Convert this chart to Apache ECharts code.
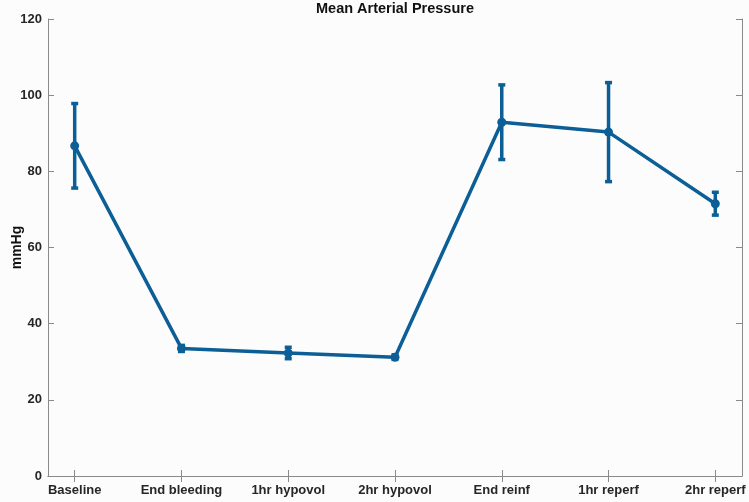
<!DOCTYPE html>
<html><head><meta charset="utf-8">
<script src="https://cdn.jsdelivr.net/npm/echarts@6/dist/echarts.min.js"></script>
<style>html,body{margin:0;padding:0;background:#fcfcfc}#c{width:749px;height:502px}</style>
</head><body><div id="c"></div>
<script>
const categories = ['Baseline','End bleeding','1hr hypovol','2hr hypovol','End reinf','1hr reperf','2hr reperf'];
const means = [86.7, 33.5, 32.3, 31.2, 92.9, 90.3, 71.5];
const errs  = [11.1, 0.8, 1.5, 0.6, 9.8, 13.0, 3.0];
const yTicks = [0, 20, 40, 60, 80, 100, 120];

const color = '#0b5f96';
const axisColor = '#8a8a8a';
const txt = '#262626';
const font = '"Liberation Sans", Arial, sans-serif';
const xs = categories.map((_, i) => i + 1);
const lineData = means.map((m, i) => [xs[i], m]);
const errData = means.map((m, i) => [xs[i], m - errs[i], m + errs[i]]);

const chart = echarts.init(document.getElementById('c'), null, {renderer: 'canvas'});
chart.setOption({
  backgroundColor: '#fcfcfc',
  animation: false,
  title: {
    text: 'Mean Arterial Pressure', left: 395, top: 1, padding: 0, textAlign: 'center',
    textStyle: {fontFamily: font, fontSize: 14.5, fontWeight: 'bold', color: '#111'}
  },
  grid: {left: 48, right: 7, top: 19, bottom: 26, containLabel: false, outerBoundsMode: 'none'},
  xAxis: [{
    type: 'value', min: 0.75, max: 7.25, position: 'bottom',
    axisLine: {show: true, lineStyle: {color: axisColor, width: 1}},
    axisTick: {show: true, inside: true, length: 6, customValues: xs, lineStyle: {color: axisColor}},
    axisLabel: {customValues: xs, formatter: v => categories[Math.round(v) - 1] || '',
      fontFamily: font, fontSize: 13, fontWeight: 'bold', color: txt, margin: 8},
    splitLine: {show: false}
  }, {
    type: 'value', min: 0.75, max: 7.25, position: 'top',
    axisLine: {show: true, lineStyle: {color: axisColor, width: 1}},
    axisTick: {show: true, inside: true, length: 6, customValues: xs, lineStyle: {color: axisColor}},
    axisLabel: {show: false}, splitLine: {show: false}
  }],
  yAxis: [{
    type: 'value', min: 0, max: 120, interval: 20, position: 'left',
    name: 'mmHg', nameLocation: 'middle', nameGap: 24, nameMoveOverlap: false,
    nameTextStyle: {fontFamily: font, fontSize: 14, fontWeight: 'bold', color: '#111'},
    axisLine: {show: true, lineStyle: {color: axisColor, width: 1}},
    axisTick: {show: true, inside: true, length: 6, lineStyle: {color: axisColor}},
    axisLabel: {fontFamily: font, fontSize: 13, fontWeight: 'bold', color: txt, margin: 6},
    splitLine: {show: false}
  }, {
    type: 'value', min: 0, max: 120, interval: 20, position: 'right',
    axisLine: {show: true, lineStyle: {color: axisColor, width: 1}},
    axisTick: {show: true, inside: true, length: 6, lineStyle: {color: axisColor}},
    axisLabel: {show: false}, splitLine: {show: false}
  }],
  series: [{
    type: 'custom', xAxisIndex: 0, yAxisIndex: 0, data: errData, z: 3,
    renderItem: function (params, api) {
      const x = api.value(0);
      const lo = api.coord([x, api.value(1)]);
      const hi = api.coord([x, api.value(2)]);
      const hw = 3.5;
      const st = {stroke: color, lineWidth: 3.5, fill: null};
      return {type: 'group', children: [
        {type: 'line', shape: {x1: lo[0], y1: lo[1], x2: hi[0], y2: hi[1]}, style: st},
        {type: 'line', shape: {x1: lo[0] - hw, y1: lo[1], x2: lo[0] + hw, y2: lo[1]}, style: st},
        {type: 'line', shape: {x1: hi[0] - hw, y1: hi[1], x2: hi[0] + hw, y2: hi[1]}, style: st}
      ]};
    }
  }, {
    type: 'line', xAxisIndex: 0, yAxisIndex: 0, data: lineData, z: 4,
    symbol: 'circle', symbolSize: 9, showSymbol: true,
    lineStyle: {color: color, width: 3.5}, itemStyle: {color: color}
  }]
});
</script></body></html>
